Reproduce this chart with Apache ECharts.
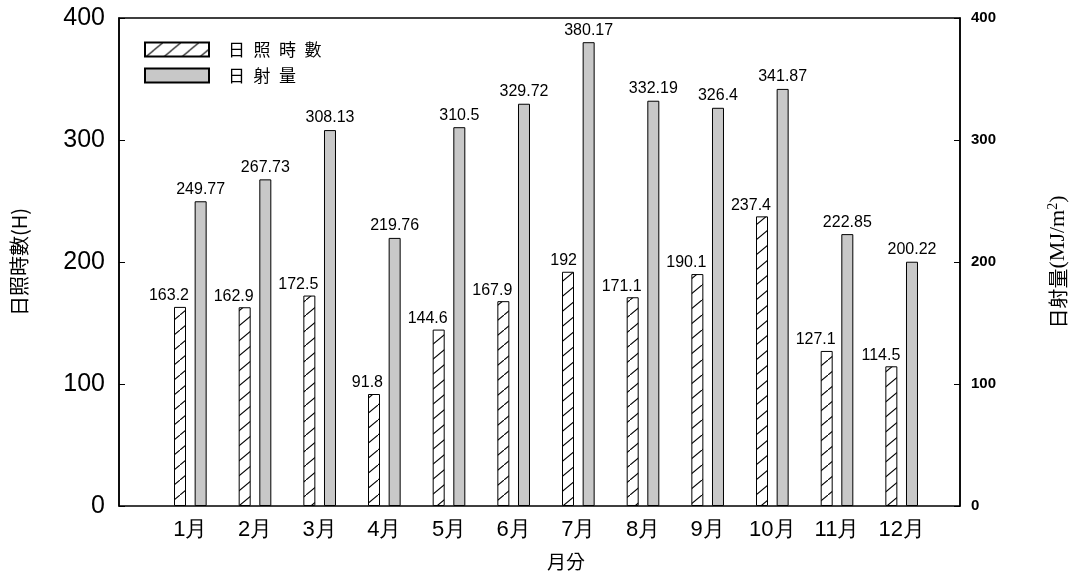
<!DOCTYPE html>
<html><head><meta charset="utf-8">
<script src="https://cdn.jsdelivr.net/npm/echarts@6/dist/echarts.min.js"></script>
<style>html,body{margin:0;padding:0;background:#fff}#c{width:1077px;height:576px}</style>
</head><body><div id="c"></div>
<script>
const months = ['1月','2月','3月','4月','5月','6月','7月','8月','9月','10月','11月','12月'];
const sunshineHours = [163.2,162.9,172.5,91.8,144.6,167.9,192,171.1,190.1,237.4,127.1,114.5];
const radiation = [249.77,267.73,308.13,219.76,310.5,329.72,380.17,332.19,326.4,341.87,222.85,200.22];
const yTicks = [0,100,200,300,400];

function hatch(){
  const c=document.createElement('canvas'); c.width=18; c.height=15;
  const g=c.getContext('2d'); g.fillStyle='#fff'; g.fillRect(0,0,18,15);
  g.strokeStyle='#000'; g.lineWidth=1.1;
  g.beginPath(); g.moveTo(-1,15+15/18); g.lineTo(19,-15/18); g.stroke();
  return c;
}
const chart = echarts.init(document.getElementById('c'));
const lab = {color:'#000', fontFamily:'Liberation Sans, Arial', fontSize:16};
chart.setOption({
  animation:false,
  backgroundColor:'#fff',
  grid:[
    {left:119, right:111, top:18, bottom:70, show:true, borderColor:'#000', borderWidth:1.5, backgroundColor:'transparent'},
    {left:158, right:143, top:18, bottom:70}
  ],
  legend:{
    left:139, top:36, orient:'vertical', itemWidth:64, itemHeight:14, itemGap:9, icon:'rect',
    formatter: n => n.split('').join('\u2002'),
    textStyle:{fontFamily:'Noto Sans CJK TC', fontSize:17, color:'#000', padding:[0,0,0,14]}
  },
  xAxis:[
    {gridIndex:0, type:'value', show:false, min:0, max:1},
    {gridIndex:1, type:'category', data:months, axisLine:{show:false}, axisTick:{show:false},
     axisLabel:{color:'#000', fontSize:22, fontFamily:'Liberation Sans, Arial', margin:13},
     name:'月分', nameLocation:'middle', nameGap:46,
     nameTextStyle:{color:'#000', fontSize:19, fontFamily:'Noto Sans CJK TC', padding:[0,0,0,40]}}
  ],
  yAxis:[
    {gridIndex:0, type:'value', min:0, max:400, interval:100, position:'left',
     axisLine:{show:true, lineStyle:{color:'#000', width:1.5}},
     axisTick:{show:true, inside:true, length:6, lineStyle:{color:'#000'}},
     splitLine:{show:false},
     axisLabel:{color:'#000', fontSize:25, fontFamily:'Liberation Sans, Arial', margin:14},
     name:'日照時數(H)', nameLocation:'middle', nameRotate:90, nameGap:90,
     nameTextStyle:{color:'#000', fontSize:20, fontFamily:'Noto Sans CJK TC'}},
    {gridIndex:0, type:'value', min:0, max:400, interval:100, position:'right',
     axisLine:{show:true, lineStyle:{color:'#000', width:1.5}},
     axisTick:{show:true, inside:true, length:6, lineStyle:{color:'#000'}},
     splitLine:{show:false},
     axisLabel:{color:'#000', fontSize:15, fontWeight:'bold', fontFamily:'Liberation Sans, Arial', margin:11},
     name:'{a|日射量}{b|(MJ/m}{s|2}{b|)}', nameLocation:'middle', nameRotate:90, nameGap:86,
     nameTextStyle:{rich:{a:{fontSize:20, fontFamily:'Noto Sans CJK TC', color:'#000'},
                          b:{fontSize:22, fontFamily:'Liberation Serif', color:'#000'},
                          s:{fontSize:14, fontFamily:'Liberation Serif', color:'#000', verticalAlign:'top', padding:[0,0,10,0]}}}},
    {gridIndex:1, type:'value', min:0, max:400, interval:100, show:false}
  ],
  series:[
    {name:'日照時數', type:'bar', xAxisIndex:1, yAxisIndex:2, data:sunshineHours,
     barWidth:12, barGap:'72%',
     itemStyle:{color:{image:hatch(), repeat:'repeat'}, borderColor:'#000', borderWidth:1},
     label:{show:true, position:[15,-3], align:'right', verticalAlign:'bottom', ...lab}},
    {name:'日射量', type:'bar', xAxisIndex:1, yAxisIndex:2, data:radiation,
     barWidth:12,
     itemStyle:{color:'#c8c8c8', borderColor:'#000', borderWidth:1},
     label:{show:true, position:'top', distance:4, ...lab}}
  ]
});
</script></body></html>
